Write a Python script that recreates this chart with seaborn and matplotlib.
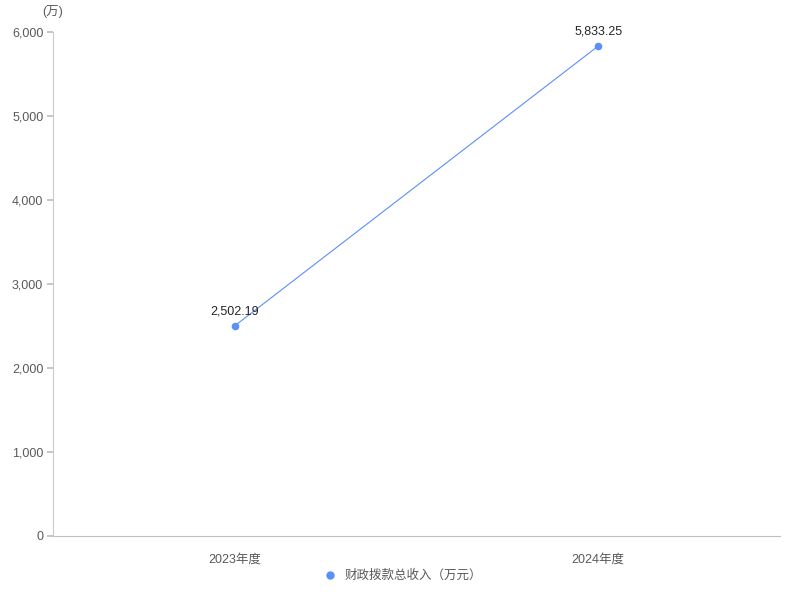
import matplotlib
matplotlib.use("Agg")
import matplotlib.pyplot as plt
import seaborn as sns
import pandas as pd

categories = ["2023年度", "2024年度"]
values = [2502.19, 5833.25]
series_name = "财政拨款总收入（万元）"
yticks = [0, 1000, 2000, 3000, 4000, 5000, 6000]

sns.set_theme(style="white")
plt.rcParams['font.family'] = ['Liberation Sans', 'Noto Sans CJK SC', 'DejaVu Sans']

df = pd.DataFrame({"cat": categories, "val": values, "series": series_name})

fig = plt.figure(figsize=(8, 6), dpi=100)
ax = fig.add_axes([0.06625, 0.10667, 0.90875, 0.84])

color = "#5B8FF9"
sns.lineplot(data=df, x="cat", y="val", hue="series", palette=[color], ax=ax,
             linewidth=0.8, marker="o", markersize=5.5, markeredgewidth=0,
             legend=False, sort=False)

ax.set_xlim(-0.5, 1.5)
ax.set_ylim(0, 6000)
ax.set_yticks(yticks)
ax.set_yticklabels([f"{v:,}" for v in yticks], fontsize=9, color="#595959")
ax.set_xticks(range(len(categories)))
ax.set_xticklabels(categories, fontsize=9, color="#595959")
ax.set_xlabel("")
ax.set_ylabel("")

for s in ["top", "right"]:
    ax.spines[s].set_visible(False)
ax.spines["left"].set_color("#cccccc")
ax.spines["bottom"].set_color("#bfbfbf")
ax.spines["left"].set_linewidth(0.8)
ax.spines["bottom"].set_linewidth(0.8)
ax.tick_params(axis="y", which="both", left=True, length=4, color="#bfbfbf", pad=3)
ax.tick_params(axis="x", which="both", bottom=False, pad=7)
ax.grid(False)

for i, v in enumerate(values):
    ax.annotate(f"{v:,.2f}", (i, v), textcoords="offset points", xytext=(0, 6),
                ha="center", va="bottom", fontsize=9, color="#262626")

fig.text(0.066, 0.98, "(万)", ha="center", va="center", fontsize=9, color="#595959")

from matplotlib.lines import Line2D
handle = Line2D([], [], marker="o", color=color, linestyle="none", markersize=5)
fig.legend([handle], [series_name], loc="center", bbox_to_anchor=(0.5, 0.04),
           frameon=False, fontsize=9, handletextpad=0.2, labelcolor="#595959")

fig.savefig("out.png", dpi=100, facecolor="white")
